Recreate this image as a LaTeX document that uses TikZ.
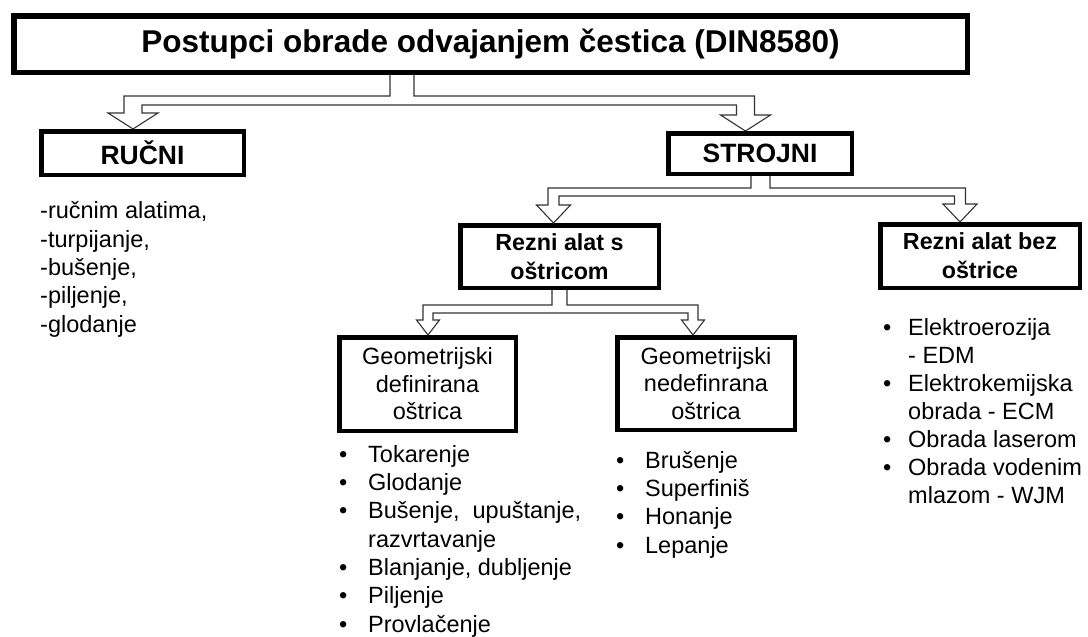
\documentclass[tikz,border=0pt]{standalone}
\usepackage{fontspec}
\setmainfont{Liberation Sans}
\usetikzlibrary{calc}

\newcommand{\fTitle}{\fontsize{31.5}{36}\selectfont\bfseries}
\newcommand{\fHead}{\fontsize{26.5}{30}\selectfont\bfseries}
\newcommand{\fBox}{\fontsize{23.3}{29}\selectfont\bfseries}
\newcommand{\fBody}{\fontsize{23.5}{27.5}\selectfont}
\newcommand{\fList}{\fontsize{23.5}{28.3}\selectfont}
\newcommand{\itm}[2][29pt]{\makebox[#1][l]{\textbullet}#2}

\tikzset{
  box/.style={draw, line width=4.5pt, inner sep=0pt, align=center},
  list/.style={inner sep=0pt, align=left, font=\fList, anchor=base west},
  fork/.style={draw=black!80, line width=1.1pt},
  forkgap/.store in=\forkgap, forkleg/.store in=\forkleg,
  forkband/.store in=\forkband, forkhead/.store in=\forkhead,
  forkheadh/.store in=\forkheadh
}

% hollow split arrow: source, left target, right target,
% stem x, left tip x, right tip x, drop to band
\newcommand{\forkarrow}[8][]{%
  \draw[fork,#1] let \p1=(#2.south), \p2=(#3.north), \p3=(#4.north) in
    ({#5pt-\forkgap},\y1) -- ({#5pt-\forkgap},{\y1-#8pt})
    -- ({#6pt-\forkleg},{\y1-#8pt}) -- ({#6pt-\forkleg},{\y2+\forkheadh})
    -- ({#6pt-\forkhead},{\y2+\forkheadh}) -- (#6pt,\y2)
    -- ({#6pt+\forkhead},{\y2+\forkheadh}) -- ({#6pt+\forkleg},{\y2+\forkheadh})
    -- ({#6pt+\forkleg},{\y1-#8pt-\forkband}) -- ({#7pt-\forkleg},{\y1-#8pt-\forkband})
    -- ({#7pt-\forkleg},{\y3+\forkheadh}) -- ({#7pt-\forkhead},{\y3+\forkheadh})
    -- (#7pt,\y3) -- ({#7pt+\forkhead},{\y3+\forkheadh})
    -- ({#7pt+\forkleg},{\y3+\forkheadh}) -- ({#7pt+\forkleg},{\y1-#8pt})
    -- ({#5pt+\forkgap},{\y1-#8pt}) -- ({#5pt+\forkgap},\y1);
}

\begin{document}
\begin{tikzpicture}[x=1pt, y=-1pt]
  \useasboundingbox (0,0) rectangle (1088,637);
  % boxes
  \node[box, line width=5.5pt, minimum width=953.5pt, minimum height=56.5pt, font=\fTitle] (title) at (490.5,44) {Postupci obrade odvajanjem čestica (DIN8580)};
  \node[box, minimum width=202.5pt, minimum height=43.5pt, font=\fHead] (rucni) at (142.5,153) {RUČNI};
  \node[box, minimum width=183.5pt, minimum height=40.5pt, font=\fHead] (strojni) at (760,153.5) {STROJNI};
  \node[box, minimum width=198.5pt, minimum height=62.5pt, font=\fBox] (sostr) at (559.5,256.5) {Rezni alat s\\oštricom};
  \node[box, minimum width=199.5pt, minimum height=63.5pt, font=\fBox] (bezostr) at (980,256) {Rezni alat bez\\oštrice};
  \node[box, minimum width=176.5pt, minimum height=93.5pt, font=\fBody] (geodef) at (427.5,384) {Geometrijski\\definirana\\oštrica};
  \node[box, minimum width=177.5pt, minimum height=92.5pt, font=\fBody] (geonedef) at (706,383.5) {Geometrijski\\nedefinrana\\oštrica};
  % arrows
  \forkarrow[forkgap=12pt, forkleg=9pt, forkband=9pt, forkhead=25pt, forkheadh=16pt]{title}{rucni}{strojni}{402}{133}{745.5}{21}
  \forkarrow[forkgap=9.5pt, forkleg=5.5pt, forkband=8pt, forkhead=17pt, forkheadh=18pt]{strojni}{sostr}{bezostr}{760.5}{553.5}{960}{12}
  \forkarrow[forkgap=7.5pt, forkleg=5pt, forkband=8pt, forkhead=11.5pt, forkheadh=15pt]{sostr}{geodef}{geonedef}{559.5}{428}{693}{15}
  % lists (placed at the baseline of their last line)
  \node[list] (ruclist) at (40,332) {-ručnim alatima,\\-turpijanje,\\-bušenje,\\-piljenje,\\-glodanje};
  \node[list] (deflist) at (339,632) {\itm{Tokarenje}\\\itm{Glodanje}\\\itm{Bušenje,~~upuštanje,}\\\hspace*{29pt}razvrtavanje\\\itm{Blanjanje, dubljenje}\\\itm{Piljenje}\\\itm{Provlačenje}};
  \node[list] (nedeflist) at (616,553) {\itm{Brušenje}\\\itm{Superfiniš}\\\itm{Honanje}\\\itm{Lepanje}};
  \node[list, font=\fontsize{23.5}{28}\selectfont] (bezlist) at (883,503) {\itm[25pt]{Elektroerozija}\\\hspace*{25pt}- EDM\\\itm[25pt]{Elektrokemijska}\\\hspace*{25pt}obrada - ECM\\\itm[25pt]{Obrada laserom}\\\itm[25pt]{Obrada vodenim}\\\hspace*{25pt}mlazom - WJM};
\end{tikzpicture}
\end{document}
